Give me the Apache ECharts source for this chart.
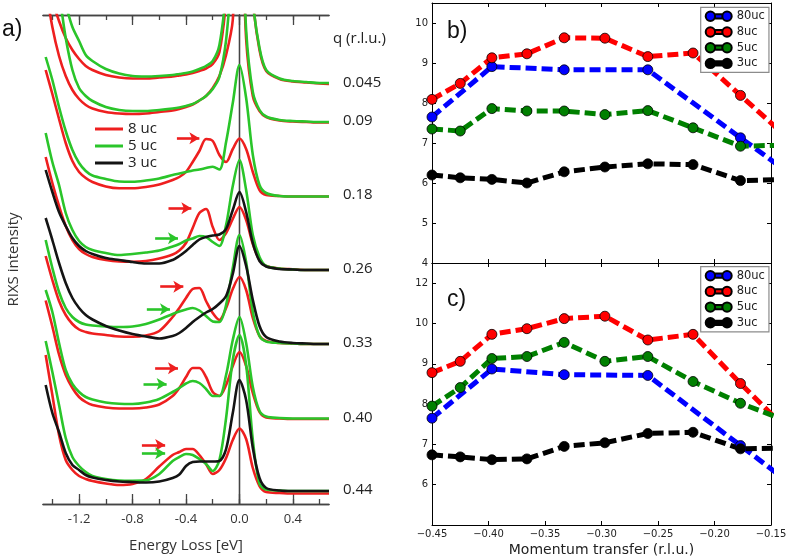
<!DOCTYPE html>
<html>
<head>
<meta charset="utf-8">
<title>RIXS spectra and dispersion</title>
<script src="https://cdn.jsdelivr.net/npm/echarts@6/dist/echarts.min.js"></script>
<style>
html, body { margin: 0; padding: 0; background: #fff; }
#chart { width: 787px; height: 560px; }
</style>
</head>
<body>
<div id="chart"></div>
<script>
// ---- panel a: energy grid (eV) and spectra, intensity above each baseline (arb. units)
var energy = [-1.45,-1.4,-1.35,-1.3,-1.25,-1.2,-1.15,-1.1,-1.0,-0.9,-0.8,-0.7,-0.6,-0.5,-0.45,-0.4,-0.35,-0.3,-0.25,-0.2,-0.15,-0.1,-0.05,0,0.05,0.1,0.15,0.2,0.3,0.4,0.5,0.6,0.67];
var qLabels = ['0.045','0.09','0.18','0.26','0.33','0.40','0.44'];
var offsets = [420.5, 382, 308, 234, 160, 85.5, 13];

var r045 = [130,84,62.5,45.5,33.5,24.5,17.5,13.5,8.5,6,5,5,6,7,8,9,10.5,12.5,15,19.5,31.5,84,200,300,200,84,33.5,12.5,4.5,2,1,0,-0.5];
var g045 = [140,120,100,78.5,56.5,42.5,28.5,22.5,14.5,10,7.5,7,7.5,8.5,9.5,10.5,12,14.5,17.5,22.5,38.5,93.5,200,300,200,83.5,35.5,13.5,5,2.5,1.5,0.5,0.5];
var r09 = [135,95,66,46,32,23,17,13.5,10,8.5,8,8.5,10,11.5,13,15,17.5,21.5,26,34,46,67,102,250,83,26,11,5,1.5,0.5,0,-0.5,-0.5];
var g09 = [180,150,127,84,52,34,26,21,15,12,11,11,12,13.5,14.5,16,18,21.5,26,33,45,82,162,250,92,30,12,5.5,2,1,0.5,0,0];
var r18 = [126,102,77,53,35,24,18,14,9.5,7.7,7.7,9,11.5,16,19,24,34,45,57,55,41,34,47,57.5,47,24,6,1,0,-0.5,-0.5,-0.5,-0.5];
var g18 = [139,116,89,65,46,33,25,20.5,17,14.5,14.3,15.5,17.5,21,22.5,24,25.5,26.5,28,29.3,26.5,54,93,131,98,41,11,3,0,-0.5,-0.5,-0.5,-0.5];
var r26 = [113,87,64,44,30,21,16,13,10,8.5,8.3,9,11.5,15.5,19.5,27,42,57,61,43,30,37,51,63,50,26,10,4,1.5,0.7,0,0,0];
var g26 = [137,108,85,57,40,29,23,20,17,15,16,17.5,19.5,23.5,26,29.5,31.5,34,33,28,24,45,84,110,80,35,13,4,1.5,0.5,0,0,0];
var k26 = [100,78,58,44,32,24,19,16,12,10,8,6.5,6.5,10,14,19,25,30.5,33,34.5,35.5,41,60,78,58,27,9,3.5,1,0.5,0,0,0];
var r33 = [88,64,43,29,20,14.5,12,10.5,9,7.5,7.3,8.5,13,27,36,46,55,56,43,31,24,36,55,67,54,26,8,3,1,0.5,0,0,0];
var g33 = [104,76,52,36,27,22,19.5,18.5,17.5,17,17.5,20,24.5,30,32.5,34.5,36,33.5,28,22.5,22,39,76,109,82,32,8,2.5,1,0.5,0,0,0];
var k33 = [126,104,81,61,46,36,29,24.5,18,13.5,10,7.5,5.5,8,11,16,22,27,31.5,35,40.5,48,70,98,78,44,18,7,2.5,1,0.5,0,0];
var r40 = [118,92,64,43.5,30.5,21.5,16.5,13.5,11,10,10,11,14,22.5,30.5,41.5,50.5,50.5,41.5,26.5,22.5,33.5,52.5,66.5,52.5,25.5,6.5,1,0,-0.5,-0.5,-0.5,-0.5];
var g40 = [128.5,106.5,75.5,48.5,34.5,26.5,21.5,19,16,14.7,14.5,16,19.5,26.5,30.5,35,37.5,35.5,29.5,22.5,22.5,43.5,78.5,101.5,75.5,31.5,7.5,2,0.5,0,0,0,0];
var r44 = [136,96,56,31,21,15,12,10,7.5,6,7,12,24.5,36,39,42,42,36,27,17,21,33,51,62.5,52,23,5,-1,-2,-2.5,-2.5,-2.5,-2.5];
var g44 = [150,119,86,53,34,25,19,15,12,10.5,10.3,10.7,17,30,34,37,36,32,27,20,31,73,131,156,126,51,7,1.5,0.5,0,0,0,0];
var k44 = [106,78,59,38,26,21,16,13.5,11,9.5,9,8.5,9.5,13,16.5,25,29,29.5,29.5,29.5,30,42,78,111,91,43,13,3,0.5,0,0,0,0];

var spectra = [
    {q: 0, film: '8 uc', v: r045}, {q: 0, film: '5 uc', v: g045},
    {q: 1, film: '8 uc', v: r09},  {q: 1, film: '5 uc', v: g09},
    {q: 2, film: '8 uc', v: r18},  {q: 2, film: '5 uc', v: g18},
    {q: 3, film: '8 uc', v: r26},  {q: 3, film: '5 uc', v: g26}, {q: 3, film: '3 uc', v: k26},
    {q: 4, film: '8 uc', v: r33},  {q: 4, film: '5 uc', v: g33}, {q: 4, film: '3 uc', v: k33},
    {q: 5, film: '8 uc', v: r40},  {q: 5, film: '5 uc', v: g40},
    {q: 6, film: '8 uc', v: r44},  {q: 6, film: '5 uc', v: g44}, {q: 6, film: '3 uc', v: k44}
];

// arrows marking the low-energy peak: energy from/to, height above the baseline
var arrows = [
    {q: 2, film: '8 uc', from: -0.468, to: -0.30, level: 57.7},
    {q: 3, film: '8 uc', from: -0.531, to: -0.36, level: 61.7},
    {q: 3, film: '5 uc', from: -0.631, to: -0.46, level: 31.7},
    {q: 4, film: '8 uc', from: -0.593, to: -0.42, level: 57.3},
    {q: 4, film: '5 uc', from: -0.693, to: -0.52, level: 34.7},
    {q: 5, film: '8 uc', from: -0.631, to: -0.46, level: 50.2},
    {q: 5, film: '5 uc', from: -0.718, to: -0.545, level: 34.5},
    {q: 6, film: '8 uc', from: -0.730, to: -0.556, level: 46},
    {q: 6, film: '5 uc', from: -0.730, to: -0.556, level: 37.7}
];

var energyMajor = [-1.2, -0.8, -0.4, 0, 0.4];
var energyAll = [-1.4, -1.2, -1.0, -0.8, -0.6, -0.4, -0.2, 0, 0.2, 0.4, 0.6];

// ---- panels b and c: momentum transfer (r.l.u.) and peak energy
var qMom = [-0.45, -0.425, -0.397, -0.366, -0.333, -0.297, -0.259, -0.219, -0.177, -0.133];
var qMom80 = [-0.45, -0.397, -0.333, -0.259, -0.177, -0.133];
var b80 = [7.65, 8.91, 8.83, 8.83, 7.13, 6.23];
var b8 = [8.09, 8.49, 9.13, 9.23, 9.63, 9.62, 9.16, 9.25, 8.19, 7.07];
var b5 = [7.35, 7.30, 7.86, 7.80, 7.80, 7.71, 7.81, 7.38, 6.92, 6.95];
var b3 = [6.20, 6.13, 6.09, 6.00, 6.28, 6.40, 6.48, 6.46, 6.06, 6.09];
var c80 = [7.65, 8.87, 8.73, 8.71, 6.97, 6.03];
var c8 = [8.78, 9.06, 9.73, 9.87, 10.12, 10.18, 9.59, 9.73, 8.51, 7.29];
var c5 = [7.95, 8.41, 9.13, 9.18, 9.53, 9.06, 9.18, 8.56, 8.02, 7.55];
var c3 = [6.74, 6.69, 6.62, 6.64, 6.95, 7.04, 7.27, 7.30, 6.89, 6.91];
var momTicks = [-0.45, -0.40, -0.35, -0.30, -0.25, -0.20, -0.15];

var filmColor = {'8 uc': '#ee1f1f', '5 uc': '#2ac52a', '3 uc': '#141414'};
var dotColor = {'80uc': '#0000ff', '8uc': '#ff0000', '5uc': '#008000', '3uc': '#000000'};
var fontA = 'Open Sans';
var fontB = 'DejaVu Sans';

var chart = echarts.init(document.getElementById('chart'));

var series = [];
for (var i = 0; i < spectra.length; i++) {
    var s = spectra[i];
    var off = offsets[s.q];
    var pts = [];
    for (var j = 0; j < energy.length; j++) {
        pts.push([energy[j], off + s.v[j]]);
    }
    var ser = {
        name: s.film, type: 'line', xAxisIndex: 0, yAxisIndex: 0,
        data: pts, symbol: 'none', smooth: 0.3, clip: true,
        lineStyle: {color: filmColor[s.film], width: 2.6},
        itemStyle: {color: filmColor[s.film]},
        z: s.film == '3 uc' ? 4 : (s.film == '5 uc' ? 3 : 2)
    };
    var marks = [];
    for (var k = 0; k < arrows.length; k++) {
        var a = arrows[k];
        if (a.q == s.q && a.film == s.film) {
            marks.push([{coord: [a.from, off + a.level]}, {coord: [a.to, off + a.level]}]);
        }
    }
    if (marks.length) {
        ser.markLine = {
            silent: true, symbol: ['none', 'arrow'], symbolSize: [9, 10],
            lineStyle: {color: filmColor[s.film], width: 2.6, type: 'solid'},
            label: {show: false}, emphasis: {disabled: true},
            data: marks
        };
    }
    series.push(ser);
}

function dotSeries(name, xs, ys, xi, yi) {
    var pts = [];
    for (var i = 0; i < xs.length; i++) pts.push([xs[i], ys[i]]);
    return {
        name: name, type: 'line', xAxisIndex: xi, yAxisIndex: yi, data: pts,
        symbol: 'circle', symbolSize: 10, showAllSymbol: true, clip: true,
        lineStyle: {color: dotColor[name], width: 5, type: [11, 5]},
        itemStyle: {color: dotColor[name], borderColor: '#000', borderWidth: 0.8}
    };
}
series.push(dotSeries('80uc', qMom80, b80, 4, 2));
series.push(dotSeries('8uc', qMom, b8, 4, 2));
series.push(dotSeries('5uc', qMom, b5, 4, 2));
series.push(dotSeries('3uc', qMom, b3, 4, 2));
series.push(dotSeries('80uc', qMom80, c80, 6, 4));
series.push(dotSeries('8uc', qMom, c8, 6, 4));
series.push(dotSeries('5uc', qMom, c5, 6, 4));
series.push(dotSeries('3uc', qMom, c3, 6, 4));

var frameA = {show: true, lineStyle: {color: '#444', width: 1.3}};
var frameB = {show: true, lineStyle: {color: '#000', width: 1}};
var dotIcon = 'path://M0.5,5A4.5,4.5 0 1 1 9.5,5A4.5,4.5 0 1 1 0.5,5Z M9.5,3L16.5,3L16.5,7L9.5,7Z M16.5,5A4.5,4.5 0 1 1 25.5,5A4.5,4.5 0 1 1 16.5,5Z';

function energyAxis(pos, ticks, len, labels) {
    return {
        type: 'value', gridIndex: 0, position: pos, min: -1.47, max: 0.67,
        axisLine: frameA, splitLine: {show: false},
        axisTick: {show: true, inside: true, length: len, customValues: ticks, lineStyle: {color: '#444', width: 1.3}},
        axisLabel: labels ? {
            show: true, customValues: energyMajor, margin: 9, fontSize: 13, fontFamily: fontA, color: '#333',
            formatter: function (v) { return v.toFixed(1); }
        } : {show: false}
    };
}
function momAxis(grid, pos, labels) {
    return {
        type: 'value', gridIndex: grid, position: pos, min: -0.45, max: -0.15,
        axisLine: frameB, splitLine: {show: false},
        axisTick: {show: true, inside: true, length: 4, customValues: momTicks, lineStyle: {color: '#000'}},
        axisLabel: labels ? {
            show: true, customValues: momTicks, margin: 4, fontSize: 10, fontFamily: fontB, color: '#222',
            formatter: function (v) { return '\u2212' + Math.abs(v).toFixed(2); }
        } : {show: false},
        name: labels ? 'Momentum transfer (r.l.u.)' : '', nameLocation: 'middle', nameGap: 18,
        nameTextStyle: {fontSize: 14, fontFamily: fontB, color: '#222'}
    };
}
function energyValueAxis(grid, pos, min, max, ticks, labelVals, fmt) {
    return {
        type: 'value', gridIndex: grid, position: pos, min: min, max: max,
        axisLine: frameB, splitLine: {show: false},
        axisTick: {show: true, inside: true, length: 4, customValues: ticks, lineStyle: {color: '#000'}},
        axisLabel: labelVals ? {
            show: true, customValues: labelVals, margin: 4, fontSize: 10, fontFamily: fontB, color: '#222',
            formatter: fmt
        } : {show: false}
    };
}

function dotLegend(top) {
    return {
        data: ['80uc', '8uc', '5uc', '3uc'], orient: 'vertical', left: 700.7, top: top,
        icon: dotIcon, itemWidth: 26, itemHeight: 10, itemGap: 3.7, padding: [3, 4, 3, 4],
        backgroundColor: '#fff', borderColor: '#8c8c8c', borderWidth: 1.2, selectedMode: false,
        textStyle: {fontSize: 11.5, lineHeight: 12, fontFamily: fontB, color: '#222'}
    };
}

var option = {
    animation: false,
    backgroundColor: '#fff',
    grid: [
        {left: 43, top: 15, width: 286, height: 489, outerBoundsMode: 'none'},
        {left: 432, top: 3, width: 339, height: 260, outerBoundsMode: 'none'},
        {left: 432, top: 263, width: 339, height: 262, outerBoundsMode: 'none'}
    ],
    xAxis: [
        (function () {
            var ax = energyAxis('bottom', energyMajor, 10, true);
            ax.name = 'Energy Loss [eV]';
            ax.nameLocation = 'middle';
            ax.nameGap = 34;
            ax.nameTextStyle = {fontSize: 15, fontFamily: fontA, color: '#333'};
            return ax;
        })(),
        energyAxis('bottom', energyAll, 5, false),
        energyAxis('top', energyMajor, 10, false),
        energyAxis('top', energyAll, 5, false),
        momAxis(1, 'bottom', false),
        momAxis(1, 'top', false),
        momAxis(2, 'bottom', true),
        momAxis(2, 'top', false)
    ],
    yAxis: [
        {
            type: 'value', gridIndex: 0, position: 'left', min: 0, max: 489,
            axisLine: frameA, axisTick: {show: false}, axisLabel: {show: false}, splitLine: {show: false},
            name: 'RIXS intensity', nameLocation: 'middle', nameGap: 22,
            nameTextStyle: {fontSize: 15, fontFamily: fontA, color: '#333'}
        },
        {
            type: 'value', gridIndex: 0, position: 'right', min: 0, max: 489,
            axisLine: frameA, axisTick: {show: false}, splitLine: {show: false},
            axisLabel: {
                show: true, margin: 14, fontSize: 15, fontFamily: fontA, color: '#222',
                customValues: offsets.map(function (o) { return o + 1; }),
                formatter: function (v) {
                    for (var i = 0; i < offsets.length; i++) {
                        if (Math.abs(offsets[i] + 1 - v) < 0.01) return qLabels[i];
                    }
                    return '';
                }
            }
        },
        energyValueAxis(1, 'left', 4, 10.5, [4, 5, 6, 7, 8, 9, 10], [4, 5, 6, 7, 8, 9, 10],
            function (v) { return String(v); }),
        energyValueAxis(1, 'right', 4, 10.5, [4, 5, 6, 7, 8, 9, 10], null),
        energyValueAxis(2, 'left', 5, 11.5, [5, 6, 7, 8, 9, 10, 11], [6, 7, 8, 9, 10, 11],
            function (v) { return v == 11 ? '12' : String(v); }),
        energyValueAxis(2, 'right', 5, 11.5, [5, 6, 7, 8, 9, 10, 11], null)
    ],
    legend: [
        {
            data: ['8 uc', '5 uc', '3 uc'], orient: 'vertical', left: 95, top: 120.5,
            icon: 'rect', itemWidth: 28, itemHeight: 3, itemGap: 0, padding: 0,
            selectedMode: false,
            textStyle: {fontSize: 15, lineHeight: 17, fontFamily: fontA, color: '#222'}
        },
        dotLegend(7.3),
        dotLegend(266.7)
    ],
    graphic: [
        {type: 'text', left: 2, top: 18, style: {text: 'a)', fontSize: 23, fontFamily: 'Liberation Sans', fill: '#111'}},
        {type: 'text', left: 447, top: 20, style: {text: 'b)', fontSize: 23, fontFamily: 'Liberation Sans', fill: '#111'}},
        {type: 'text', left: 447, top: 288, style: {text: 'c)', fontSize: 23, fontFamily: 'Liberation Sans', fill: '#111'}},
        {type: 'text', left: 333, top: 31, style: {text: 'q (r.l.u.)', fontSize: 15, fontFamily: fontA, fill: '#222'}}
    ],
    series: series
};

chart.setOption(option);
window.onresize = chart.resize;
</script>
</body>
</html>
